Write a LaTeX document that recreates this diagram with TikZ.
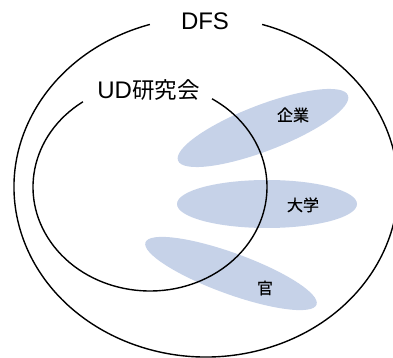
\documentclass[tikz,border=0pt]{standalone}
\usepackage{fontspec}
\setmainfont{Liberation Sans}
\newfontfamily\cjk{Noto Sans CJK JP}
\newfontfamily\cjkb[FakeBold=0.5]{Noto Sans CJK JP}
\definecolor{softblue}{RGB}{198,210,232}
\tikzset{
  ring/.style={draw=black, line width=1.4pt},
  blob/.style={fill=softblue},
  biglabel/.style={font=\fontsize{24}{28}\selectfont, inner sep=0pt, anchor=base},
  smalllabel/.style={font=\cjkb\fontsize{16}{19}\selectfont, inner sep=0pt, anchor=base}
}
\begin{document}
\begin{tikzpicture}[x=1pt,y=1pt]
\useasboundingbox (0,0) rectangle (393,358);
% blue ellipses
\fill[blob, rotate around={21:(263,230)}] (263,230) ellipse [x radius=91pt, y radius=23pt];
\fill[blob] (267,154) ellipse [x radius=90pt, y radius=24pt];
\fill[blob, rotate around={-20:(231,84.5)}] (231,84.5) ellipse [x radius=91pt, y radius=20.5pt];
% outer ring (DFS)
\draw[ring] (206,171) ++(107:192 and 170) arc[start angle=107, end angle=433, x radius=192pt, y radius=170pt];
% inner ring (UD)
\draw[ring] (150,171) ++(125:117 and 104) arc[start angle=125, end angle=418, x radius=117pt, y radius=104pt];
% labels
\node[biglabel] (dfs) at (205,328) {DFS};
\node[biglabel] (ud) at (148.5,259) {UD{\cjk\fontsize{22.5}{26}\selectfont 研究会}};
\node[smalllabel] (kigyo) at (293,237) {企業};
\node[smalllabel] (daigaku) at (303,147) {大学};
\node[smalllabel] (kan) at (265,64) {官};
\end{tikzpicture}
\end{document}
